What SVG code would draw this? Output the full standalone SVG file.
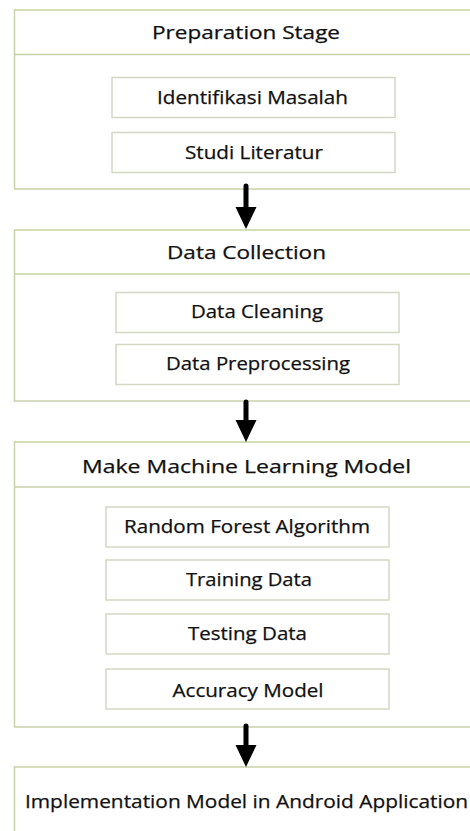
<svg xmlns="http://www.w3.org/2000/svg" width="470" height="831" viewBox="0 0 470 831">
<style>
.outer{fill:#fff;stroke:#c8d2a8;stroke-width:1.5}
.hdr{stroke:#c8d2a8;stroke-width:1.5}
.inner{fill:#fff;stroke:#d3d8c2;stroke-width:1.5}
text{font-family:"Open Sans","Noto Sans","Liberation Sans",sans-serif;font-size:17.5px;fill:#111;stroke:#111;stroke-width:0.25;text-anchor:middle}
.shaft{stroke:#000;stroke-width:5;stroke-linecap:round}
</style>
<rect width="470" height="831" fill="#fff"/>
<g id="prep">
<rect class="outer" x="14.5" y="10" width="470" height="179"/>
<line class="hdr" x1="14.5" y1="54.5" x2="470" y2="54.5"/>
<text x="246" y="39" textLength="188" lengthAdjust="spacingAndGlyphs">Preparation Stage</text>
</g>
<g id="identifikasi">
<rect class="inner" x="112" y="77.5" width="283" height="40"/>
<text x="252.5" y="104" textLength="191" lengthAdjust="spacingAndGlyphs">Identifikasi Masalah</text>
</g>
<g id="studi">
<rect class="inner" x="112" y="132.5" width="283" height="40"/>
<text x="254" y="159" textLength="138" lengthAdjust="spacingAndGlyphs">Studi Literatur</text>
</g>
<g id="collection">
<rect class="outer" x="14.5" y="230" width="470" height="171"/>
<line class="hdr" x1="14.5" y1="274" x2="470" y2="274"/>
<text x="246.5" y="259" textLength="159" lengthAdjust="spacingAndGlyphs">Data Collection</text>
</g>
<g id="cleaning">
<rect class="inner" x="116" y="292.5" width="283" height="40"/>
<text x="257" y="318" textLength="132" lengthAdjust="spacingAndGlyphs">Data Cleaning</text>
</g>
<g id="preprocessing">
<rect class="inner" x="116" y="344.5" width="283" height="40"/>
<text x="258" y="370" textLength="184" lengthAdjust="spacingAndGlyphs">Data Preprocessing</text>
</g>
<g id="model">
<rect class="outer" x="14.5" y="442" width="470" height="285"/>
<line class="hdr" x1="14.5" y1="487" x2="470" y2="487"/>
<text x="246.5" y="473" textLength="329" lengthAdjust="spacingAndGlyphs">Make Machine Learning Model</text>
</g>
<g id="randomforest">
<rect class="inner" x="106" y="507" width="283" height="40"/>
<text x="247" y="533" textLength="246" lengthAdjust="spacingAndGlyphs">Random Forest Algorithm</text>
</g>
<g id="training">
<rect class="inner" x="106" y="560" width="283" height="40"/>
<text x="249" y="586" textLength="126" lengthAdjust="spacingAndGlyphs">Training Data</text>
</g>
<g id="testing">
<rect class="inner" x="106" y="614" width="283" height="40"/>
<text x="247.5" y="640" textLength="119" lengthAdjust="spacingAndGlyphs">Testing Data</text>
</g>
<g id="accuracy">
<rect class="inner" x="106" y="669" width="283" height="40"/>
<text x="248" y="697" textLength="151" lengthAdjust="spacingAndGlyphs">Accuracy Model</text>
</g>
<g id="implementation">
<rect class="outer" x="14.5" y="767" width="470" height="80"/>
<text x="246.5" y="808" textLength="443" lengthAdjust="spacingAndGlyphs">Implementation Model in Android Application</text>
</g>
<g id="connectors">
<line class="shaft" x1="246" y1="186" x2="246" y2="209"/>
<polygon points="235.5,207 256.5,207 246,229"/>
<line class="shaft" x1="246" y1="402" x2="246" y2="422"/>
<polygon points="235.5,420 256.5,420 246,442"/>
<line class="shaft" x1="246" y1="726" x2="246" y2="747"/>
<polygon points="235.5,745 256.5,745 246,767"/>
</g>
</svg>
